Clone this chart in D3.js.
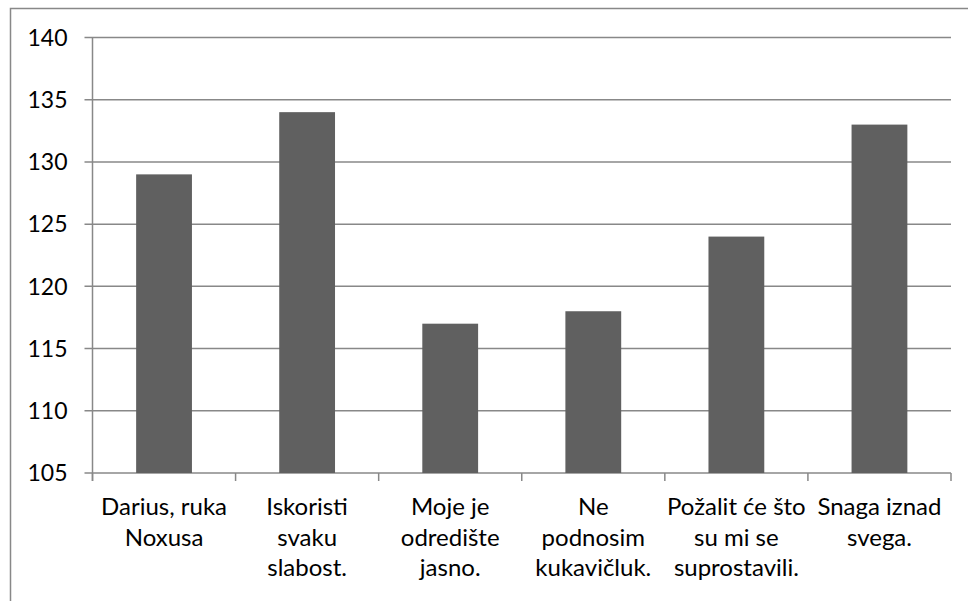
<!DOCTYPE html>
<html>
<head>
<meta charset="utf-8">
<script src="https://cdn.jsdelivr.net/npm/d3@7"></script>
<style>
  body { margin: 0; background: #fff; }
  text { font-family: Lato, "Open Sans", sans-serif; fill: #000; }
</style>
</head>
<body>
<div id="chart"></div>
<script>
// data
var categories = ["Darius, ruka Noxusa", "Iskoristi svaku slabost.", "Moje je odredište jasno.",
                  "Ne podnosim kukavičluk.", "Požalit će što su mi se suprostavili.", "Snaga iznad svega."];
var labelLines = [["Darius, ruka", "Noxusa"], ["Iskoristi", "svaku", "slabost."], ["Moje je", "odredište", "jasno."],
                  ["Ne", "podnosim", "kukavičluk."], ["Požalit će što", "su mi se", "suprostavili."], ["Snaga iznad", "svega."]];
var values = [129, 134, 117, 118, 124, 133];
var yTicks = [105, 110, 115, 120, 125, 130, 135, 140];

var W = 968, H = 601;
var margin = {top: 37.5, left: 92.5, right: 17, bottom: 128};
var width = W - margin.left - margin.right,
    height = H - margin.top - margin.bottom;

var root = d3.select("#chart").append("svg")
  .attr("width", W).attr("height", H);

// outer chart border (right/bottom edges fall outside the picture)
root.append("rect")
  .attr("x", 10.5).attr("y", 8.5)
  .attr("width", W).attr("height", H)
  .attr("fill", "none").attr("stroke", "#888").attr("stroke-width", 1.5);

var svg = root.append("g")
  .attr("transform", "translate(" + margin.left + "," + margin.top + ")");

var x = d3.scaleBand()
  .domain(categories)
  .range([0, width])
  .paddingInner(0.61).paddingOuter(0.305);

var y = d3.scaleLinear()
  .domain([105, 140])
  .range([height, 0]);

// gridlines
svg.append("g").selectAll("line")
  .data(yTicks)
  .enter().append("line")
  .attr("x1", -8).attr("x2", width)
  .attr("y1", function(d) { return y(d); })
  .attr("y2", function(d) { return y(d); })
  .attr("stroke", "#888").attr("stroke-width", 1.5);

// y labels
svg.append("g").selectAll("text")
  .data(yTicks)
  .enter().append("text")
  .attr("x", -25)
  .attr("y", function(d) { return y(d); })
  .attr("dy", "0.36em")
  .attr("text-anchor", "end")
  .style("font-size", "23px")
  .text(function(d) { return d; });

// bars
svg.append("g").selectAll("rect")
  .data(values)
  .enter().append("rect")
  .attr("x", function(d, i) { return x(categories[i]); })
  .attr("width", x.bandwidth())
  .attr("y", function(d) { return y(d); })
  .attr("height", function(d) { return y(105) - y(d); })
  .attr("fill", "#606060");

// y axis line
svg.append("line")
  .attr("x1", 0).attr("x2", 0)
  .attr("y1", 0).attr("y2", height + 8)
  .attr("stroke", "#888").attr("stroke-width", 1.5);

// category tick marks
var step = x.step();
svg.append("g").selectAll("line")
  .data(d3.range(categories.length + 1))
  .enter().append("line")
  .attr("x1", function(d) { return d * step; })
  .attr("x2", function(d) { return d * step; })
  .attr("y1", height).attr("y2", height + 8)
  .attr("stroke", "#888").attr("stroke-width", 1.5);

// category labels
var lab = svg.append("g").selectAll("text")
  .data(categories)
  .enter().append("text")
  .attr("text-anchor", "middle")
  .attr("transform", function(d) {
    return "translate(" + (x(d) + x.bandwidth() / 2) + "," + (height + 42) + ")";
  })
  .style("font-size", "24px");

lab.selectAll("tspan")
  .data(function(d, i) { return labelLines[i]; })
  .enter().append("tspan")
  .attr("x", 0)
  .attr("y", function(d, j) { return j * 30.5; })
  .text(function(d) { return d; });
</script>
</body>
</html>
